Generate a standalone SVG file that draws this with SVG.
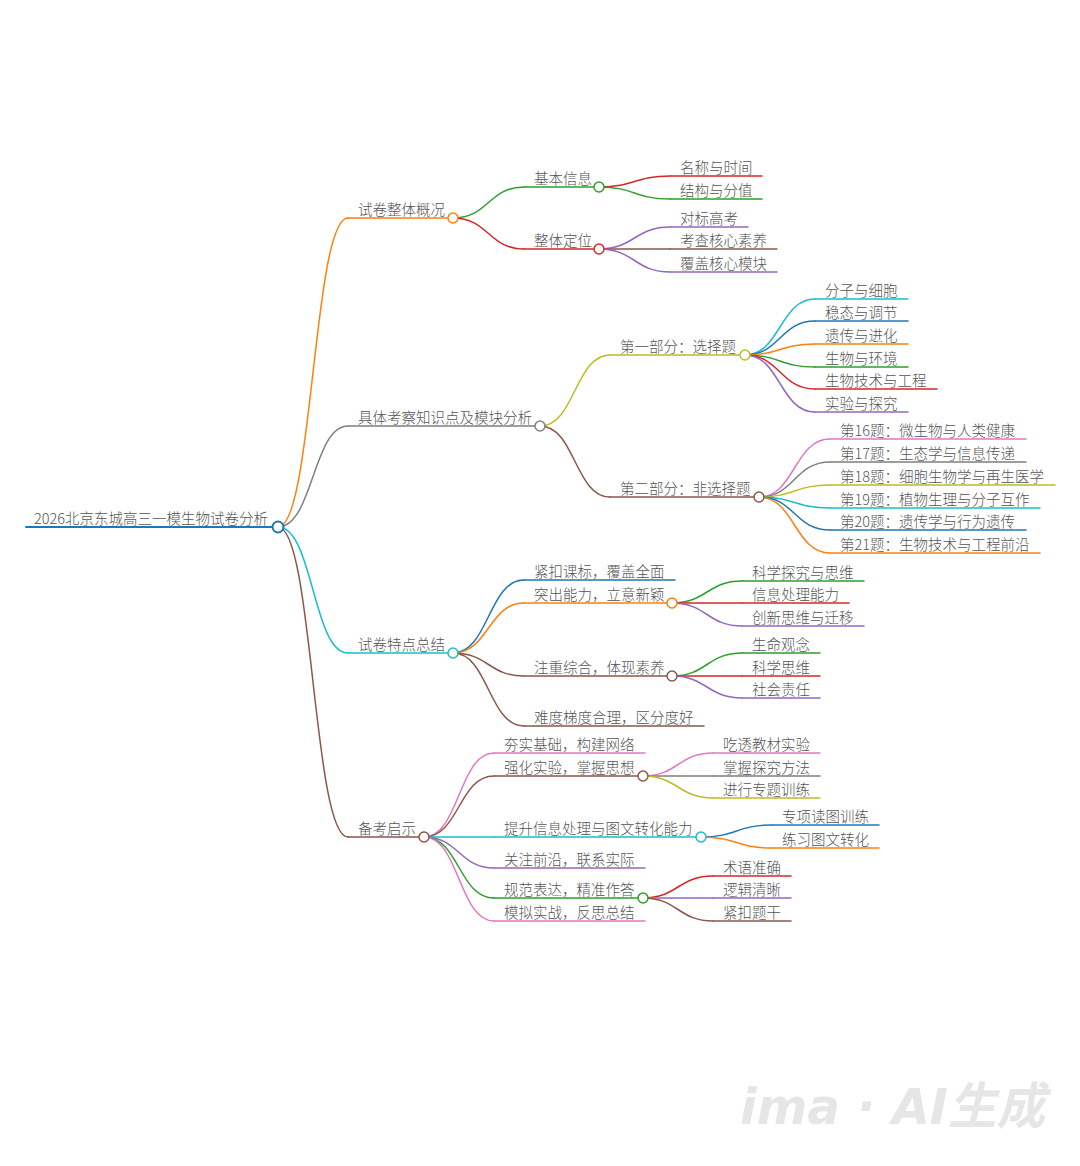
<svg xmlns="http://www.w3.org/2000/svg" width="1080" height="1166" viewBox="0 0 1080 1166">
<style>
text{font-family:"Noto Sans CJK SC","Noto Sans",sans-serif;font-size:14.5px;font-weight:300;fill:#555}
path,line{fill:none;stroke-width:1.5;stroke-linecap:round}
circle{fill:#fff;stroke-width:1.5}
.b{stroke:#1f77b4}.o{stroke:#ff7f0e}.g{stroke:#2ca02c}.r{stroke:#d62728}.p{stroke:#9467bd}
.n{stroke:#8c564b}.k{stroke:#e377c2}.y{stroke:#7f7f7f}.v{stroke:#bcbd22}.c{stroke:#17becf}
.wm{font-family:"DejaVu Sans","Noto Sans CJK SC",sans-serif;font-size:50px;font-style:italic;font-weight:bold;fill:#e6e6e6}
</style>
<rect width="1080" height="1166" fill="#fff"/>
<g id="connectors">
<path class="o" d="M278,527 C313,527 313,218 348,218"/>
<path class="y" d="M278,527 C313,527 313,426 348,426"/>
<path class="c" d="M278,527 C313,527 313,653 348,653"/>
<path class="n" d="M278,527 C313,527 313,837 348,837"/>
<path class="g" d="M453,218 C488.5,218 488.5,187 524,187"/>
<path class="r" d="M453,218 C488.5,218 488.5,249 524,249"/>
<path class="r" d="M599,187 C634.5,187 634.5,176 670,176"/>
<path class="g" d="M599,187 C634.5,187 634.5,199 670,199"/>
<path class="p" d="M599,249 C634.5,249 634.5,227 670,227"/>
<path class="n" d="M599,249 C634.5,249 634.5,249 670,249"/>
<path class="p" d="M599,249 C634.5,249 634.5,272 670,272"/>
<path class="v" d="M540,426 C575,426 575,355 610,355"/>
<path class="n" d="M540,426 C575,426 575,497 610,497"/>
<path class="c" d="M745,355 C780,355 780,299 815,299"/>
<path class="b" d="M745,355 C780,355 780,321 815,321"/>
<path class="o" d="M745,355 C780,355 780,344 815,344"/>
<path class="g" d="M745,355 C780,355 780,367 815,367"/>
<path class="r" d="M745,355 C780,355 780,389 815,389"/>
<path class="p" d="M745,355 C780,355 780,412 815,412"/>
<path class="k" d="M759,497 C794.5,497 794.5,439 830,439"/>
<path class="y" d="M759,497 C794.5,497 794.5,462 830,462"/>
<path class="v" d="M759,497 C794.5,497 794.5,485 830,485"/>
<path class="c" d="M759,497 C794.5,497 794.5,508 830,508"/>
<path class="b" d="M759,497 C794.5,497 794.5,530 830,530"/>
<path class="o" d="M759,497 C794.5,497 794.5,553 830,553"/>
<path class="b" d="M453,653 C488.5,653 488.5,580 524,580"/>
<path class="o" d="M453,653 C488.5,653 488.5,603 524,603"/>
<path class="n" d="M453,653 C488.5,653 488.5,676 524,676"/>
<path class="n" d="M453,653 C488.5,653 488.5,726 524,726"/>
<path class="g" d="M672,603 C707,603 707,581 742,581"/>
<path class="r" d="M672,603 C707,603 707,603 742,603"/>
<path class="p" d="M672,603 C707,603 707,626 742,626"/>
<path class="g" d="M672,676 C707,676 707,653 742,653"/>
<path class="r" d="M672,676 C707,676 707,676 742,676"/>
<path class="p" d="M672,676 C707,676 707,698 742,698"/>
<path class="k" d="M424,837 C459,837 459,753 494,753"/>
<path class="n" d="M424,837 C459,837 459,776 494,776"/>
<path class="c" d="M424,837 C459,837 459,837 494,837"/>
<path class="p" d="M424,837 C459,837 459,868 494,868"/>
<path class="g" d="M424,837 C459,837 459,898 494,898"/>
<path class="k" d="M424,837 C459,837 459,921 494,921"/>
<path class="k" d="M643,776 C678,776 678,753 713,753"/>
<path class="y" d="M643,776 C678,776 678,776 713,776"/>
<path class="v" d="M643,776 C678,776 678,798 713,798"/>
<path class="b" d="M701,837 C736.5,837 736.5,825 772,825"/>
<path class="o" d="M701,837 C736.5,837 736.5,848 772,848"/>
<path class="r" d="M643,898 C678,898 678,876 713,876"/>
<path class="p" d="M643,898 C678,898 678,898 713,898"/>
<path class="n" d="M643,898 C678,898 678,921 713,921"/>
</g>

<g id="root"><line class="b" x1="26" y1="527" x2="278" y2="527" style="stroke-width:2"/><circle class="b" cx="278" cy="527" r="5.5" style="stroke-width:2"/><text x="34" y="524">2026北京东城高三一模生物试卷分析</text></g>

<g id="n-a"><line class="o" x1="348" y1="218" x2="453" y2="218"/><circle class="o" cx="453" cy="218" r="5"/><text x="358" y="215">试卷整体概况</text></g>
<g id="n-a1"><line class="g" x1="524" y1="187" x2="599" y2="187"/><circle class="g" cx="599" cy="187" r="5"/><text x="534" y="184">基本信息</text></g>
<g id="n-a1-1"><line class="r" x1="670" y1="176" x2="762" y2="176"/><text x="680" y="173">名称与时间</text></g>
<g id="n-a1-2"><line class="g" x1="670" y1="199" x2="762" y2="199"/><text x="680" y="196">结构与分值</text></g>
<g id="n-a2"><line class="r" x1="524" y1="249" x2="599" y2="249"/><circle class="r" cx="599" cy="249" r="5"/><text x="534" y="246">整体定位</text></g>
<g id="n-a2-1"><line class="p" x1="670" y1="227" x2="748" y2="227"/><text x="680" y="224">对标高考</text></g>
<g id="n-a2-2"><line class="n" x1="670" y1="249" x2="777" y2="249"/><text x="680" y="246">考查核心素养</text></g>
<g id="n-a2-3"><line class="p" x1="670" y1="272" x2="777" y2="272"/><text x="680" y="269">覆盖核心模块</text></g>

<g id="n-b"><line class="y" x1="348" y1="426" x2="540" y2="426"/><circle class="y" cx="540" cy="426" r="5"/><text x="358" y="423">具体考察知识点及模块分析</text></g>
<g id="n-b1"><line class="v" x1="610" y1="355" x2="745" y2="355"/><circle class="v" cx="745" cy="355" r="5"/><text x="620" y="352">第一部分：选择题</text></g>
<g id="n-b1-1"><line class="c" x1="815" y1="299" x2="908" y2="299"/><text x="825" y="296">分子与细胞</text></g>
<g id="n-b1-2"><line class="b" x1="815" y1="321" x2="908" y2="321"/><text x="825" y="318">稳态与调节</text></g>
<g id="n-b1-3"><line class="o" x1="815" y1="344" x2="908" y2="344"/><text x="825" y="341">遗传与进化</text></g>
<g id="n-b1-4"><line class="g" x1="815" y1="367" x2="908" y2="367"/><text x="825" y="364">生物与环境</text></g>
<g id="n-b1-5"><line class="r" x1="815" y1="389" x2="937" y2="389"/><text x="825" y="386">生物技术与工程</text></g>
<g id="n-b1-6"><line class="p" x1="815" y1="412" x2="908" y2="412"/><text x="825" y="409">实验与探究</text></g>
<g id="n-b2"><line class="n" x1="610" y1="497" x2="759" y2="497"/><circle class="n" cx="759" cy="497" r="5"/><text x="620" y="494">第二部分：非选择题</text></g>
<g id="n-b2-1"><line class="k" x1="830" y1="439" x2="1026" y2="439"/><text x="840" y="436">第16题：微生物与人类健康</text></g>
<g id="n-b2-2"><line class="y" x1="830" y1="462" x2="1026" y2="462"/><text x="840" y="459">第17题：生态学与信息传递</text></g>
<g id="n-b2-3"><line class="v" x1="830" y1="485" x2="1055" y2="485"/><text x="840" y="482">第18题：细胞生物学与再生医学</text></g>
<g id="n-b2-4"><line class="c" x1="830" y1="508" x2="1040" y2="508"/><text x="840" y="505">第19题：植物生理与分子互作</text></g>
<g id="n-b2-5"><line class="b" x1="830" y1="530" x2="1026" y2="530"/><text x="840" y="527">第20题：遗传学与行为遗传</text></g>
<g id="n-b2-6"><line class="o" x1="830" y1="553" x2="1040" y2="553"/><text x="840" y="550">第21题：生物技术与工程前沿</text></g>

<g id="n-c"><line class="c" x1="348" y1="653" x2="453" y2="653"/><circle class="c" cx="453" cy="653" r="5"/><text x="358" y="650">试卷特点总结</text></g>
<g id="n-c1"><line class="b" x1="524" y1="580" x2="675" y2="580"/><text x="534" y="577">紧扣课标，覆盖全面</text></g>
<g id="n-c2"><line class="o" x1="524" y1="603" x2="672" y2="603"/><circle class="o" cx="672" cy="603" r="5"/><text x="534" y="600">突出能力，立意新颖</text></g>
<g id="n-c2-1"><line class="g" x1="742" y1="581" x2="864" y2="581"/><text x="752" y="578">科学探究与思维</text></g>
<g id="n-c2-2"><line class="r" x1="742" y1="603" x2="849" y2="603"/><text x="752" y="600">信息处理能力</text></g>
<g id="n-c2-3"><line class="p" x1="742" y1="626" x2="864" y2="626"/><text x="752" y="623">创新思维与迁移</text></g>
<g id="n-c3"><line class="n" x1="524" y1="676" x2="672" y2="676"/><circle class="n" cx="672" cy="676" r="5"/><text x="534" y="673">注重综合，体现素养</text></g>
<g id="n-c3-1"><line class="g" x1="742" y1="653" x2="820" y2="653"/><text x="752" y="650">生命观念</text></g>
<g id="n-c3-2"><line class="r" x1="742" y1="676" x2="820" y2="676"/><text x="752" y="673">科学思维</text></g>
<g id="n-c3-3"><line class="p" x1="742" y1="698" x2="820" y2="698"/><text x="752" y="695">社会责任</text></g>
<g id="n-c4"><line class="n" x1="524" y1="726" x2="704" y2="726"/><text x="534" y="723">难度梯度合理，区分度好</text></g>

<g id="n-d"><line class="n" x1="348" y1="837" x2="424" y2="837"/><circle class="n" cx="424" cy="837" r="5"/><text x="358" y="834">备考启示</text></g>
<g id="n-d1"><line class="k" x1="494" y1="753" x2="645" y2="753"/><text x="504" y="750">夯实基础，构建网络</text></g>
<g id="n-d2"><line class="n" x1="494" y1="776" x2="643" y2="776"/><circle class="n" cx="643" cy="776" r="5"/><text x="504" y="773">强化实验，掌握思想</text></g>
<g id="n-d2-1"><line class="k" x1="713" y1="753" x2="820" y2="753"/><text x="723" y="750">吃透教材实验</text></g>
<g id="n-d2-2"><line class="y" x1="713" y1="776" x2="820" y2="776"/><text x="723" y="773">掌握探究方法</text></g>
<g id="n-d2-3"><line class="v" x1="713" y1="798" x2="820" y2="798"/><text x="723" y="795">进行专题训练</text></g>
<g id="n-d3"><line class="c" x1="494" y1="837" x2="701" y2="837"/><circle class="c" cx="701" cy="837" r="5"/><text x="504" y="834">提升信息处理与图文转化能力</text></g>
<g id="n-d3-1"><line class="b" x1="772" y1="825" x2="879" y2="825"/><text x="782" y="822">专项读图训练</text></g>
<g id="n-d3-2"><line class="o" x1="772" y1="848" x2="879" y2="848"/><text x="782" y="845">练习图文转化</text></g>
<g id="n-d4"><line class="p" x1="494" y1="868" x2="645" y2="868"/><text x="504" y="865">关注前沿，联系实际</text></g>
<g id="n-d5"><line class="g" x1="494" y1="898" x2="643" y2="898"/><circle class="g" cx="643" cy="898" r="5"/><text x="504" y="895">规范表达，精准作答</text></g>
<g id="n-d5-1"><line class="r" x1="713" y1="876" x2="791" y2="876"/><text x="723" y="873">术语准确</text></g>
<g id="n-d5-2"><line class="p" x1="713" y1="898" x2="791" y2="898"/><text x="723" y="895">逻辑清晰</text></g>
<g id="n-d5-3"><line class="n" x1="713" y1="921" x2="791" y2="921"/><text x="723" y="918">紧扣题干</text></g>
<g id="n-d6"><line class="k" x1="494" y1="921" x2="645" y2="921"/><text x="504" y="918">模拟实战，反思总结</text></g>

<text class="wm" x="740" y="1124" textLength="305" lengthAdjust="spacingAndGlyphs">ima · AI生成</text>
</svg>
